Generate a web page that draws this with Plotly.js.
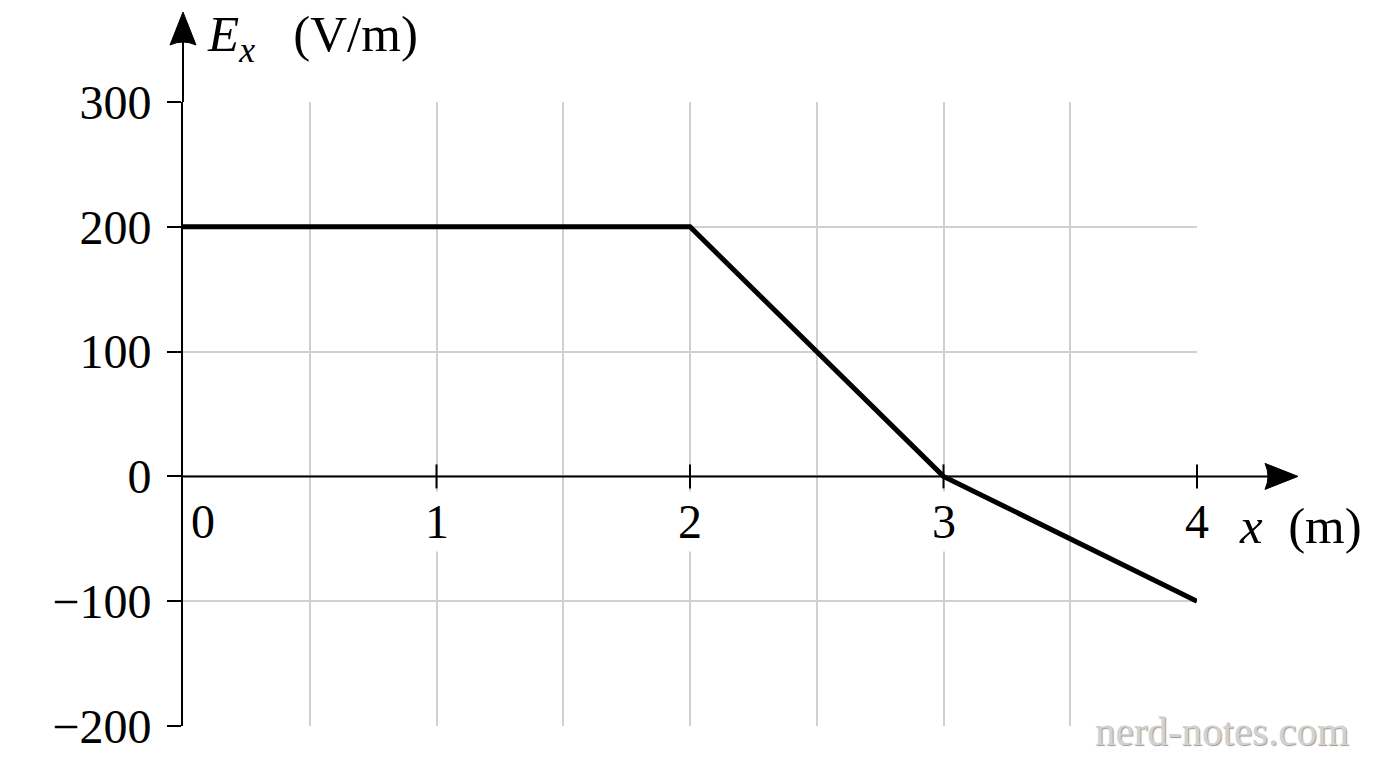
<!DOCTYPE html>
<html>
<head>
<meta charset="utf-8">
<script src="https://cdn.plot.ly/plotly-3.0.1.min.js"></script>
<style>
  html, body { margin: 0; padding: 0; background: #fff; }
  #chart { width: 1376px; height: 768px; }
</style>
</head>
<body>
<div id="chart"></div>
<script>
// E_x against x
var xPos = [0, 2, 3, 4];
var eField = [200, 200, 0, -100];

var xTickVals = [1, 2, 3, 4];
var xTickText = ['1', '2', '3', '4'];
var yTickVals = [-200, -100, 0, 100, 200, 300];

var xRange = [0, 4];
var yRange = [-200, 300];

var serif = 'Liberation Serif, DejaVu Serif, serif';

// paper fractions, so the axis decorations are not clipped to the plot box
function px(v) { return (v - xRange[0]) / (xRange[1] - xRange[0]); }
function py(v) { return (v - yRange[0]) / (yRange[1] - yRange[0]); }

var trace = {
  x: xPos,
  y: eField,
  mode: 'lines',
  type: 'scatter',
  line: { color: '#000', width: 5 },
  cliponaxis: false,
  hoverinfo: 'skip'
};

// x tick labels sit under the y=0 axis, white box breaks the grid
var annots = xTickVals.map(function (v, i) {
  return {
    x: v, y: 0, xref: 'x', yref: 'y',
    text: xTickText[i], showarrow: false,
    yshift: -45, bgcolor: '#fff', borderpad: 3,
    font: { family: serif, size: 48, color: '#000' }
  };
});
annots.push({
  x: 0, y: 0, xref: 'x', yref: 'y', text: '0', showarrow: false,
  xanchor: 'left', xshift: 6, yshift: -45,
  font: { family: serif, size: 48, color: '#000' }
});
annots.push({
  x: 0, y: 300, xref: 'x', yref: 'y', xanchor: 'left', yanchor: 'middle',
  xshift: 22, yshift: 64, showarrow: false,
  text: '<i>E</i><sub><i>x</i></sub>   (V/m)',
  font: { family: serif, size: 51, color: '#000' }
});
annots.push({
  x: 4, y: 0, xref: 'x', yref: 'y', xanchor: 'left', yanchor: 'middle',
  xshift: 40, yshift: -50, showarrow: false,
  text: '<i>x</i>  (m)',
  font: { family: serif, size: 51, color: '#000' }
});
annots.push({
  x: 1, y: 0, xref: 'paper', yref: 'paper', xanchor: 'right', yanchor: 'middle',
  xshift: 154, yshift: -5, showarrow: false,
  text: 'nerd-notes.com',
  font: { family: serif, size: 41, color: '#d2d2d2', shadow: '1px 1px 1px #999' }
});

var plotW = 1376 - 183 - 179;
var shapes = [];
// crossing ticks on the x axis
xTickVals.forEach(function (v) {
  shapes.push({
    type: 'line', xref: 'paper', yref: 'paper', x0: px(v), x1: px(v),
    ysizemode: 'pixel', yanchor: py(0), y0: -12, y1: 12,
    line: { color: '#000', width: 2 }
  });
});
// x axis (y = 0) with its arrow
shapes.push({
  type: 'line', xref: 'paper', yref: 'paper', xsizemode: 'pixel', xanchor: 0,
  x0: 0, x1: plotW + 80, y0: py(0), y1: py(0), line: { color: '#000', width: 2 }
});
shapes.push({
  type: 'path', xref: 'paper', yref: 'paper', xsizemode: 'pixel', ysizemode: 'pixel',
  xanchor: 1, yanchor: py(0),
  path: 'M 101 0 L 68 13 Q 74 0 68 -13 Z',
  fillcolor: '#000', line: { color: '#000', width: 1 }
});
// y axis extension and arrow
shapes.push({
  type: 'line', xref: 'paper', yref: 'paper', ysizemode: 'pixel', yanchor: 1,
  x0: px(0), x1: px(0), y0: 0, y1: 70, line: { color: '#000', width: 2 }
});
shapes.push({
  type: 'path', xref: 'paper', yref: 'paper', xsizemode: 'pixel', ysizemode: 'pixel',
  xanchor: px(0), yanchor: 1,
  path: 'M 0 90 L 13 57 Q 0 63 -13 57 Z',
  fillcolor: '#000', line: { color: '#000', width: 1 }
});

var layout = {
  width: 1376,
  height: 768,
  paper_bgcolor: '#fff',
  plot_bgcolor: '#fff',
  showlegend: false,
  margin: { l: 183, r: 179, t: 102, b: 42 },
  xaxis: {
    range: xRange,
    dtick: 0.5,
    tick0: 0,
    showgrid: true,
    gridcolor: '#d0d0d0',
    gridwidth: 2,
    showticklabels: false,
    ticks: '',
    zeroline: false,
    showline: false,
    fixedrange: true
  },
  yaxis: {
    range: yRange,
    tickvals: yTickVals,
    showgrid: true,
    gridcolor: '#d0d0d0',
    gridwidth: 2,
    zeroline: false,
    showline: true,
    linecolor: '#000',
    linewidth: 2,
    ticks: 'outside',
    ticklen: 14,
    tickwidth: 2,
    tickcolor: '#000',
    ticklabelstandoff: 6,
    tickfont: { family: serif, size: 48, color: '#000' },
    fixedrange: true
  },
  annotations: annots,
  shapes: shapes
};

Plotly.newPlot('chart', [trace], layout, { displayModeBar: false, staticPlot: true });
</script>
</body>
</html>
